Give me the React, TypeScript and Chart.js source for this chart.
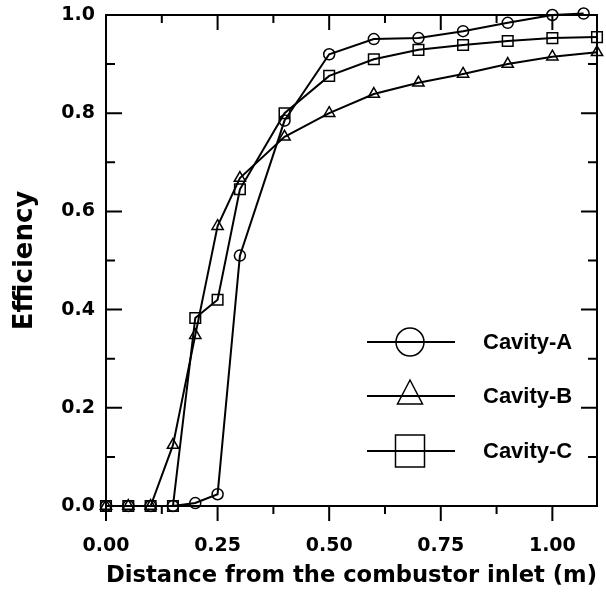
import React, { useEffect, useRef } from 'react';
import { Chart, registerables } from 'chart.js';

Chart.register(...registerables);

// ---- data ----
const xA = [0, 0.05, 0.1, 0.15, 0.2, 0.25, 0.3, 0.4, 0.5, 0.6, 0.7, 0.8, 0.9, 1.0, 1.07];
const xBC = [0, 0.05, 0.1, 0.15, 0.2, 0.25, 0.3, 0.4, 0.5, 0.6, 0.7, 0.8, 0.9, 1.0, 1.1];
const cavityA = [0, 0, 0, 0, 0.006, 0.024, 0.51, 0.785, 0.92, 0.951, 0.953, 0.967, 0.984, 1.0, 1.003];
const cavityB = [0, 0, 0, 0.124, 0.348, 0.57, 0.668, 0.752, 0.8, 0.839, 0.862, 0.88, 0.9, 0.915, 0.924];
const cavityC = [0, 0, 0, 0, 0.383, 0.42, 0.645, 0.8, 0.876, 0.91, 0.929, 0.939, 0.947, 0.953, 0.955];
const seriesNames = ['Cavity-A', 'Cavity-B', 'Cavity-C'];
const xTickValues = [0, 0.25, 0.5, 0.75, 1.0];
const yTickValues = [0, 0.2, 0.4, 0.6, 0.8, 1.0];
const xTitle = 'Distance from the combustor inlet (m)';
const yTitle = 'Efficiency';

const toPoints = (xs: number[], ys: number[]) => ys.map((y, i) => ({ x: xs[i], y }));

const framePlugin = {
  id: 'frameTicks',
  afterDatasetsDraw(chart: any) {
    const { ctx, chartArea, scales } = chart;
    const { left, right, top, bottom } = chartArea;
    const x = scales.x;
    const y = scales.y;
    ctx.save();
    ctx.strokeStyle = '#000';
    ctx.lineWidth = 2;
    ctx.strokeRect(left, top, right - left, bottom - top);
    ctx.beginPath();
    for (let i = 0; i <= 8; i++) {
      const px = x.getPixelForValue(i * 0.125);
      const L = i % 2 === 0 ? 15 : 8;
      ctx.moveTo(px, bottom);
      ctx.lineTo(px, bottom + L);
      ctx.moveTo(px, top);
      ctx.lineTo(px, top + L);
    }
    for (let i = 0; i <= 10; i++) {
      const py = y.getPixelForValue(i * 0.1);
      const L = i % 2 === 0 ? 16 : 9;
      ctx.moveTo(left, py);
      ctx.lineTo(left + L, py);
      ctx.moveTo(right, py);
      ctx.lineTo(right - L, py);
    }
    ctx.stroke();
    ctx.restore();
  },
};

const legendPlugin = {
  id: 'customLegend',
  afterDraw(chart: any) {
    const { ctx, chartArea } = chart;
    const { right, bottom } = chartArea;
    const rows = [bottom - 164, bottom - 110, bottom - 55];
    const x0 = right - 230;
    const x1 = right - 142;
    const cx = right - 187;
    const tx = right - 114;
    ctx.save();
    ctx.strokeStyle = '#000';
    ctx.fillStyle = '#000';
    ctx.lineWidth = 2;
    ctx.font = 'bold 22px "Liberation Sans", Arial, sans-serif';
    ctx.textBaseline = 'middle';
    ctx.textAlign = 'left';
    chart.data.datasets.forEach((ds: any, i: number) => {
      const yy = rows[i];
      ctx.beginPath();
      ctx.moveTo(x0, yy);
      ctx.lineTo(x1, yy);
      ctx.stroke();
      ctx.lineWidth = 1.5;
      ctx.beginPath();
      if (ds.pointStyle === 'circle') {
        ctx.arc(cx, yy, 14, 0, Math.PI * 2);
      } else if (ds.pointStyle === 'triangle') {
        ctx.moveTo(cx, yy - 16);
        ctx.lineTo(cx + 12.5, yy + 8);
        ctx.lineTo(cx - 12.5, yy + 8);
        ctx.closePath();
      } else {
        ctx.rect(cx - 14.5, yy - 16, 29, 32);
      }
      ctx.stroke();
      ctx.lineWidth = 2;
      ctx.fillText(ds.label, tx, yy + 1);
    });
    ctx.restore();
  },
};

export default function App() {
  const ref = useRef<HTMLCanvasElement | null>(null);

  useEffect(() => {
    if (!ref.current) return;
    const common = {
      borderColor: '#000',
      backgroundColor: 'rgba(0,0,0,0)',
      pointBorderColor: '#000',
      pointBackgroundColor: 'rgba(0,0,0,0)',
      borderWidth: 2,
      pointBorderWidth: 1.5,
      tension: 0,
      clip: false as any,
    };
    const chart = new Chart(ref.current, {
      type: 'line',
      data: {
        datasets: [
          { ...common, label: seriesNames[0], data: toPoints(xA, cavityA), pointStyle: 'circle', pointRadius: 5.5 },
          { ...common, label: seriesNames[1], data: toPoints(xBC, cavityB), pointStyle: 'triangle', pointRadius: 6.5 },
          { ...common, label: seriesNames[2], data: toPoints(xBC, cavityC), pointStyle: 'rect', pointRadius: 7.5 },
        ] as any,
      },
      options: {
        animation: false,
        responsive: false,
        maintainAspectRatio: false,
        layout: { padding: { left: 0, right: 7, top: 15, bottom: 0 } },
        plugins: { legend: { display: false }, tooltip: { enabled: false } },
        scales: {
          x: {
            type: 'linear',
            min: 0,
            max: 1.1,
            grid: { display: false, drawTicks: false },
            border: { display: false },
            afterBuildTicks: (s: any) => {
              s.ticks = xTickValues.map((v) => ({ value: v }));
            },
            afterFit: (s: any) => {
              s.height = 93;
              s.paddingLeft = 0;
              s.paddingRight = 0;
              s.paddingTop = 0;
              s.paddingBottom = 0;
            },
            ticks: {
              padding: 29,
              color: '#000',
              font: { family: '"DejaVu Sans", Verdana, sans-serif', size: 19, weight: 'bold' },
              callback: (v: any) => Number(v).toFixed(2),
              maxRotation: 0,
            },
            title: {
              display: true,
              text: xTitle,
              color: '#000',
              font: { family: '"DejaVu Sans", Verdana, sans-serif', size: 23, weight: 'bold' },
              padding: { top: 0, bottom: 9 },
            },
          },
          y: {
            type: 'linear',
            min: 0,
            max: 1.0,
            grid: { display: false, drawTicks: false },
            border: { display: false },
            afterBuildTicks: (s: any) => {
              s.ticks = yTickValues.map((v) => ({ value: v }));
            },
            afterFit: (s: any) => {
              s.width = 106;
              s.paddingLeft = 0;
              s.paddingRight = 0;
              s.paddingTop = 0;
              s.paddingBottom = 0;
            },
            ticks: {
              padding: 11,
              color: '#000',
              font: { family: '"DejaVu Sans", Verdana, sans-serif', size: 19, weight: 'bold' },
              callback: (v: any) => Number(v).toFixed(1),
            },
            title: {
              display: true,
              text: yTitle,
              color: '#000',
              font: { family: '"DejaVu Sans", Verdana, sans-serif', size: 26, weight: 'bold' },
              padding: { top: 10, bottom: 0 },
            },
          },
        },
      } as any,
      plugins: [framePlugin, legendPlugin],
    });
    return () => chart.destroy();
  }, []);

  return (
    <div style={{ position: 'fixed', left: 0, top: 0, width: 606, height: 599, background: '#fff' }}>
      <canvas ref={ref} width={606} height={599} style={{ display: 'block', width: 606, height: 599 }} />
    </div>
  );
}
